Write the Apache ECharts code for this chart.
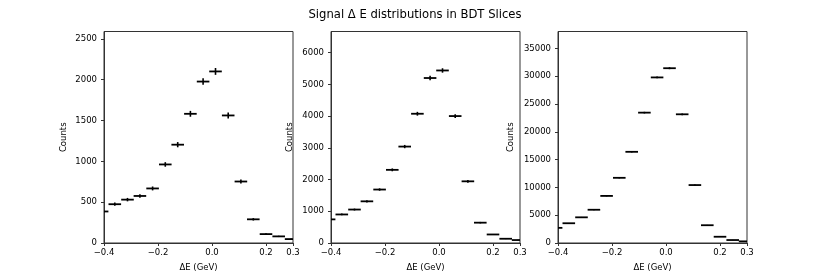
<!DOCTYPE html>
<html><head><meta charset="utf-8">
<script src="https://cdn.jsdelivr.net/npm/echarts@6/dist/echarts.min.js"></script>
<style>html,body{margin:0;padding:0;background:#fff}#c{width:830px;height:277px}</style>
</head><body><div id="c"></div>
<script>
const binCenters = [-0.407,-0.360,-0.313,-0.267,-0.220,-0.173,-0.127,-0.080,-0.033,0.013,0.060,0.107,0.153,0.200,0.247,0.293];
const binHalfWidth = 0.0233;
const counts1 = [386,475,531,576,668,962,1204,1582,1977,2101,1562,753,290,109,81,48];
const errors1 = [18,20,21,22,24,28,32,36,40,42,36,25,15,9,8,6];
const counts2 = [745,900,1055,1314,1686,2307,3041,4076,5203,5441,4003,1945,641,269,134,93];
const errors2 = [25,28,30,34,38,45,52,60,68,70,60,42,24,15,11,9];
const counts3 = [2724,3553,4619,5981,8469,11726,16404,23452,29788,31446,23155,10423,3198,1125,533,296];
const errors3 = [50,58,66,76,90,105,125,150,170,175,150,100,55,33,23,17];
const yMax = [2590, 6670, 38050];
const yInterval = [500, 1000, 5000];
const xMin = -0.4, xMax = 0.3, xInterval = 0.2;
const titleText = 'Signal \u0394 E distributions in BDT Slices';
const xLabel = '\u0394E (GeV)';
const yLabel = 'Counts';

const FONT = 'DejaVu Sans';
const FS = 8.5;
const lefts = [104, 331, 558];
const nameGaps = [36, 37, 43];
const gridW = 189, gridTop = 31.5, gridH = 214.5;
const allCounts = [counts1, counts2, counts3];
const allErrors = [errors1, errors2, errors3];

const grids = [], xAxes = [], yAxes = [], series = [];
for (let i = 0; i < 3; i++) {
  grids.push({left: lefts[i], top: gridTop, width: gridW, height: gridH, show: true, borderColor: '#333', borderWidth: 1, backgroundColor: 'transparent'});
  xAxes.push({gridIndex: i, type: 'value', min: xMin, max: xMax, interval: xInterval,
    name: xLabel, nameLocation: 'middle', nameGap: 20,
    nameTextStyle: {fontFamily: FONT, fontSize: FS, color: '#000'},
    axisLine: {show: true, onZero: false, lineStyle: {color: '#333', width: 1}},
    axisTick: {show: true, length: 3, lineStyle: {color: '#333'}},
    axisLabel: {fontFamily: FONT, fontSize: FS, color: '#000', margin: 5,
      formatter: v => (Math.abs(v) < 1e-9 ? 0 : v).toFixed(1).replace('-', '\u2212')},
    splitLine: {show: false}});
  yAxes.push({gridIndex: i, type: 'value', min: 0, max: yMax[i], interval: yInterval[i],
    name: yLabel, nameLocation: 'middle', nameGap: nameGaps[i], nameRotate: 90,
    nameTextStyle: {fontFamily: FONT, fontSize: FS, color: '#000'},
    axisLine: {show: true, onZero: false, lineStyle: {color: '#333', width: 1}},
    axisTick: {show: true, length: 3, lineStyle: {color: '#333'}},
    axisLabel: {fontFamily: FONT, fontSize: FS, color: '#000', margin: 7, showMaxLabel: false,
      formatter: v => String(Math.round(v))},
    splitLine: {show: false}});
  const data = binCenters.map((c, k) => [c, allCounts[i][k], allErrors[i][k]]);
  series.push({type: 'custom', xAxisIndex: i, yAxisIndex: i, data: data, silent: true,
    renderItem: function (params, api) {
      const x = api.value(0), y = api.value(1), e = api.value(2);
      const xa = Math.max(x - binHalfWidth, xMin), xb = Math.min(x + binHalfWidth, xMax);
      const p1 = api.coord([xa, y]), p2 = api.coord([xb, y]);
      const p3 = api.coord([x, y - e]), p4 = api.coord([x, y + e]);
      const children = [{type: 'line', shape: {x1: p1[0], y1: p1[1], x2: p2[0], y2: p2[1]}, style: {stroke: '#000', lineWidth: 1.8}}];
      if (x >= xMin && x <= xMax) children.push({type: 'line', shape: {x1: p3[0], y1: p3[1], x2: p4[0], y2: p4[1]}, style: {stroke: '#000', lineWidth: 1.6}});
      return {type: 'group', children: children};
    }});
}

const chart = echarts.init(document.getElementById('c'), null, {renderer: 'canvas'});
chart.setOption({
  animation: false,
  backgroundColor: '#fff',
  title: {text: titleText, left: 'center', top: 4, textStyle: {fontFamily: FONT, fontSize: 11.6, fontWeight: 'normal', color: '#000'}},
  grid: grids, xAxis: xAxes, yAxis: yAxes, series: series
});
</script></body></html>
